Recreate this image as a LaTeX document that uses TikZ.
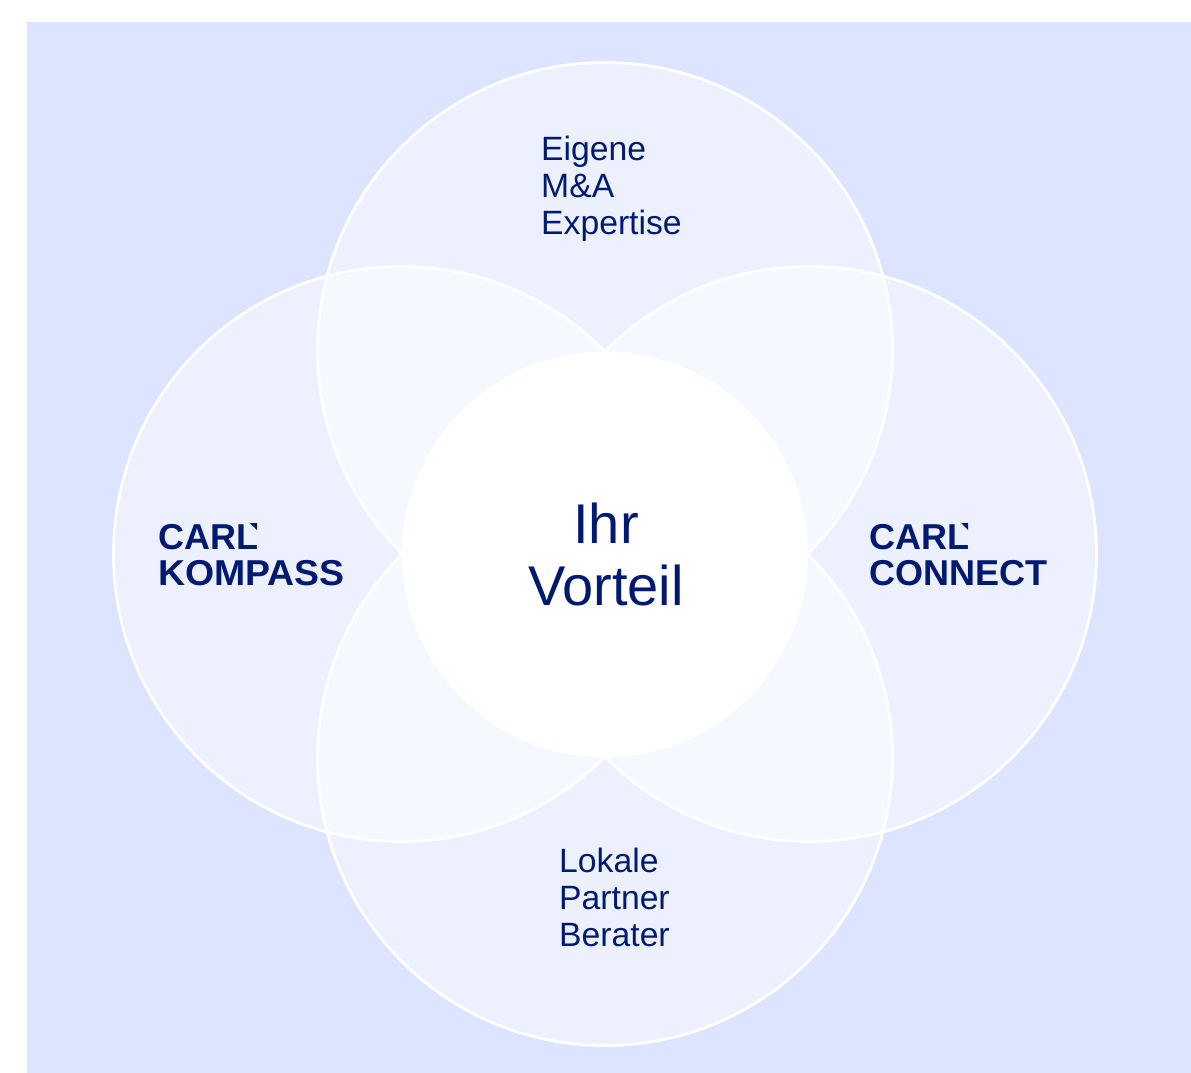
\documentclass[tikz,border=0pt]{standalone}
\usepackage{fontspec}
\usepackage{graphicx}
\setmainfont{Liberation Sans}
\definecolor{bgblue}{HTML}{DCE4FF}
\definecolor{navy}{HTML}{001A72}
\tikzset{
  x=1pt,y=-1pt,
  petalfill/.style={fill=white,fill opacity=.5},
  petalline/.style={draw=white,line width=2.8pt},
  label/.style={text=navy,anchor=west,align=left,inner sep=0pt,font=\fontsize{33.7}{37}\selectfont},
  brand/.style={text=navy,anchor=west,align=left,inner sep=0pt,font=\bfseries\fontsize{36}{36}\selectfont},
  hub/.style={text=navy,anchor=center,align=center,inner sep=0pt,font=\fontsize{56}{62}\selectfont},
}
\begin{document}
\begin{tikzpicture}
\useasboundingbox (0,0) rectangle (1191,1073);
\fill[bgblue] (27,22) rectangle (1191,1073);
\foreach \c in {(605,350),(401,554),(809,554),(605,758)}{
  \path[petalfill] \c circle (287.5pt);
}
\foreach \c in {(605,350),(401,554),(809,554),(605,758)}{
  \path[petalline] \c circle (287.5pt);
}
\fill[white] (605,554.5) circle (203pt);
\node[label] (top) at (541,188.5) {Eigene\\M\&A\\Expertise};
\node[label] (bottom) at (559,897.5) {Lokale\\Partner\\Berater};
\node[hub] (center) at (606,554.5) {Ihr\\Vorteil};
\node[brand] (kompass) at (158,555) {CARL\\\scalebox{1.04}[1]{KOMPASS}};
\node[brand] (connect) at (869,555) {CARL\\CONNECT};
\fill[navy] (250,523) -- (257,523) -- (257,530) -- cycle;
\fill[navy] (961,523) -- (968,523) -- (968,530) -- cycle;
\end{tikzpicture}
\end{document}
